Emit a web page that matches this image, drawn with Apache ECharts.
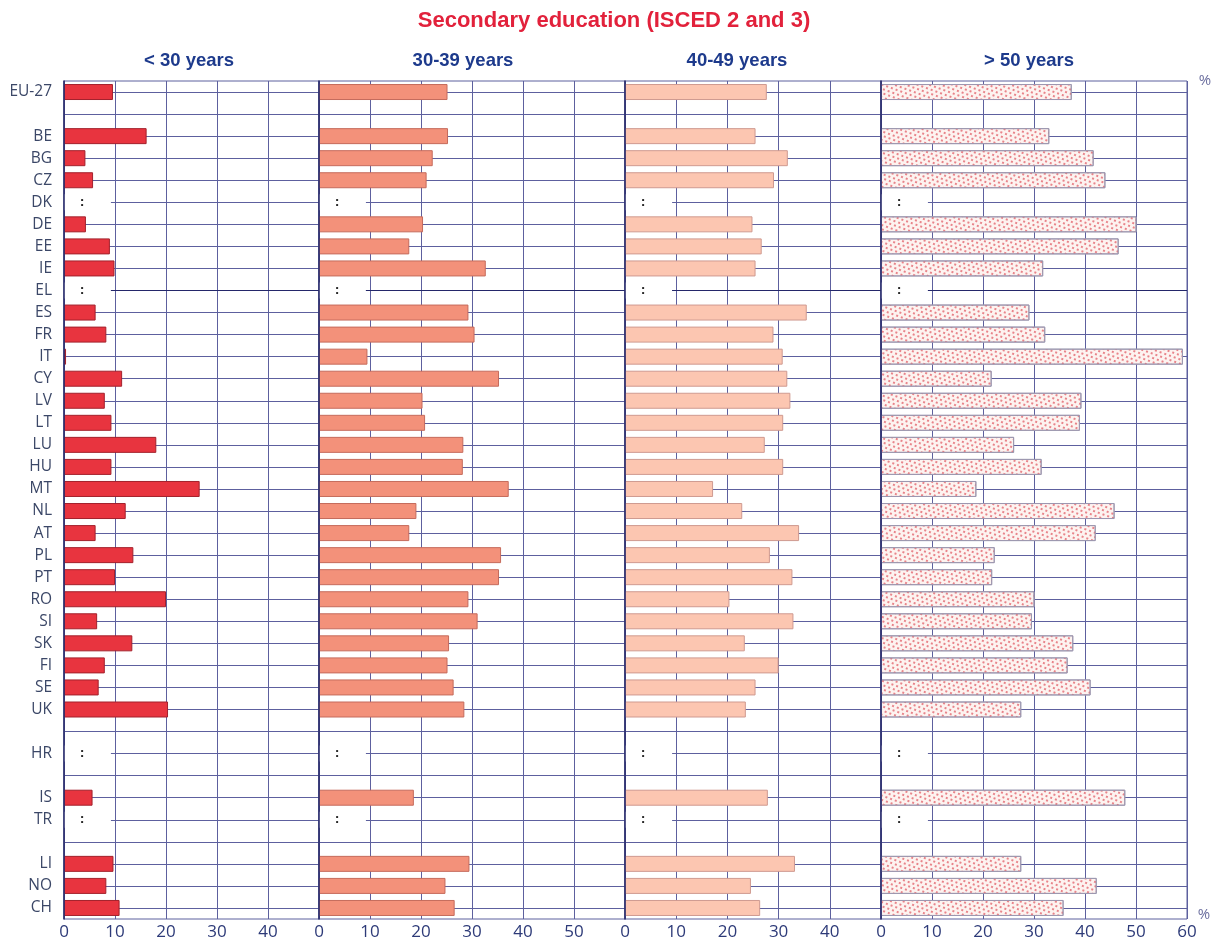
<!DOCTYPE html>
<html>
<head>
<meta charset="utf-8">
<title>Secondary education (ISCED 2 and 3)</title>
<script src="https://cdn.jsdelivr.net/npm/echarts@6/dist/echarts.min.js"></script>
<style>
  html, body { margin: 0; padding: 0; background: #ffffff; }
  #chart { width: 1215px; height: 942px; }
</style>
</head>
<body>
<div id="chart"></div>
<script>
// Rows from top to bottom; the whitespace-only names are spacer rows between country groups.
const categories = ['EU-27', ' ', 'BE', 'BG', 'CZ', 'DK', 'DE', 'EE', 'IE', 'EL', 'ES', 'FR', 'IT', 'CY',
  'LV', 'LT', 'LU', 'HU', 'MT', 'NL', 'AT', 'PL', 'PT', 'RO', 'SI', 'SK', 'FI', 'SE', 'UK', '  ',
  'HR', '   ', 'IS', 'TR', '    ', 'LI', 'NO', 'CH'];

// Countries with no data (shown as ":")
const notAvailable = ['DK', 'EL', 'HR', 'TR'];

const panelTitles = ['< 30 years', '30-39 years', '40-49 years', '> 50 years'];

// Share of teachers by age group (%)
const under30 = [9.6, null, 16.2, 4.2, 5.7, null, 4.3, 9.0, 9.9, null, 6.2, 8.3, 0.4, 11.4,
  8.0, 9.3, 18.1, 9.3, 26.6, 12.1, 6.2, 13.6, 10.0, 20.0, 6.5, 13.4, 8.0, 6.8, 20.4, null,
  null, null, 5.6, null, null, 9.7, 8.3, 10.9];

const age30to39 = [25.2, null, 25.3, 22.3, 21.1, null, 20.4, 17.7, 32.7, null, 29.3, 30.5, 9.5, 35.3,
  20.3, 20.8, 28.3, 28.2, 37.2, 19.1, 17.7, 35.7, 35.3, 29.3, 31.1, 25.5, 25.2, 26.4, 28.5, null,
  null, null, 18.6, null, null, 29.5, 24.8, 26.6];

const age40to49 = [27.7, null, 25.5, 31.8, 29.1, null, 24.9, 26.7, 25.5, null, 35.5, 29.0, 30.8, 31.7,
  32.3, 30.9, 27.3, 30.9, 17.2, 22.9, 34.0, 28.3, 32.7, 20.4, 32.9, 23.4, 30.0, 25.5, 23.6, null,
  null, null, 27.9, null, null, 33.2, 24.6, 26.4];

const over50 = [37.4, null, 33.0, 41.7, 44.0, null, 50.1, 46.6, 31.8, null, 29.1, 32.2, 59.2, 21.7,
  39.3, 39.0, 26.1, 31.5, 18.7, 45.8, 42.1, 22.3, 21.8, 30.1, 29.6, 37.7, 36.6, 41.1, 27.5, null,
  null, null, 47.9, null, null, 27.5, 42.3, 35.8];

const axisMax = [50, 60, 50, 60];
const tickStep = 10;

// ---- layout & styling ----
const GRID_TOP = 81;
const GRID_HEIGHT = 838;
const GRID_COLOR = '#5d609e';
const AXIS_COLOR = '#2a2d6c';
const LABEL_FONT = "'Open Sans', 'DejaVu Sans', sans-serif";
const TITLE_FONT = "'Liberation Sans', Arial, sans-serif";
const NA_GAP = 9.2;       // blank run behind the ":" sign (axis units)

const panels = [
  { data: under30,   left: 64,  width: 255, titleX: 189,  fill: '#e8343f', border: '#a3212c' },
  { data: age30to39, left: 319, width: 306, titleX: 463,  fill: '#f3917a', border: '#c56b5c' },
  { data: age40to49, left: 625, width: 256, titleX: 737,  fill: '#fcc6b1', border: '#cf9a90' },
  { data: over50,    left: 881, width: 306, titleX: 1029, fill: '#fdf3f0', border: '#9d98b0',
    decal: {
      symbol: 'circle',
      symbolSize: 0.9,
      color: '#df4f5a',
      dashArrayX: [[1.7, 2.3], [0, 2.0, 1.7, 0.3]],
      dashArrayY: [1.7, 1.2],
      rotation: 0.35
    }
  }
];

const grid = [], xAxis = [], yAxis = [], series = [];

panels.forEach((p, i) => {
  grid.push({
    left: p.left, top: GRID_TOP, width: p.width, height: GRID_HEIGHT,
    show: true, borderColor: GRID_COLOR, borderWidth: 1, backgroundColor: 'transparent',
    containLabel: false
  });

  xAxis.push({
    type: 'value', gridIndex: i, min: 0, max: axisMax[i], interval: tickStep,
    axisLine: { show: false },
    axisTick: { show: false },
    splitLine: { show: true, lineStyle: { color: GRID_COLOR, width: 1 } },
    axisLabel: {
      showMaxLabel: i === panels.length - 1,
      margin: 5, fontSize: 17, color: '#2d3a78', fontFamily: LABEL_FONT
    }
  });

  // category axis carrying labels and the row lines
  yAxis.push({
    type: 'category', gridIndex: i, data: categories, inverse: true,
    axisLine: { show: false },
    axisTick: { show: false },
    splitLine: { show: true, alignWithLabel: true, lineStyle: { color: GRID_COLOR, width: 1 } },
    axisLabel: {
      show: i === 0, margin: 12, fontSize: 15.5, color: '#3b4767', fontFamily: LABEL_FONT
    }
  });
});

// a second category axis per panel: only the dark baseline, drawn above the bars
panels.forEach((p, i) => {
  yAxis.push({
    type: 'category', gridIndex: i, data: categories, inverse: true, position: 'left', offset: 0,
    z: 6,
    axisLine: { show: true, lineStyle: { color: AXIS_COLOR, width: 1.6 } },
    axisTick: { show: false }, axisLabel: { show: false }, splitLine: { show: false }
  });
});

panels.forEach((p, i) => {
  series.push({
    name: panelTitles[i],
    type: 'bar', xAxisIndex: i, yAxisIndex: i, stack: 'panel' + i,
    barWidth: 16, z: 3,
    data: p.data,
    itemStyle: {
      color: p.fill, borderColor: p.border, borderWidth: 1,
      decal: p.decal || null
    }
  });

  // rows without data: a white run hiding the row line, marked with ":"
  series.push({
    name: 'n/a ' + i,
    type: 'bar', xAxisIndex: i, yAxisIndex: i, stack: 'panel' + i,
    z: 3,
    data: categories.map(c => notAvailable.includes(c) ? NA_GAP : null),
    itemStyle: { color: '#ffffff', borderWidth: 0 },
    label: {
      show: true, formatter: ':', position: [18, '50%'],
      align: 'center', verticalAlign: 'middle',
      fontSize: 13, fontWeight: 'bold', color: '#111111', fontFamily: LABEL_FONT
    },
    markLine: {
      silent: true, symbol: ['none', 'none'], animation: false,
      label: { show: false },
      lineStyle: { color: '#24276a', width: 1.2, type: 'solid' },
      data: [[{ coord: [NA_GAP, 'EL'] }, { coord: [axisMax[i], 'EL'] }]]
    }
  });
});

const graphic = [
  {
    type: 'text', x: 614, y: 21,
    style: {
      text: 'Secondary education (ISCED 2 and 3)', fill: '#e2213b',
      font: 'bold 22px ' + TITLE_FONT, align: 'center', verticalAlign: 'middle'
    }
  },
  {
    type: 'text', x: 1205, y: 81,
    style: { text: '%', fill: '#6c6f9f', font: '15px ' + LABEL_FONT, align: 'center', verticalAlign: 'middle' }
  },
  {
    type: 'text', x: 1204, y: 915,
    style: { text: '%', fill: '#6c6f9f', font: '15px ' + LABEL_FONT, align: 'center', verticalAlign: 'middle' }
  }
];
panels.forEach((p, i) => {
  graphic.push({
    type: 'text', x: p.titleX, y: 61,
    style: {
      text: panelTitles[i], fill: '#1d3a8c',
      font: 'bold 18.5px ' + TITLE_FONT, align: 'center', verticalAlign: 'middle'
    }
  });
});

const chart = echarts.init(document.getElementById('chart'), null, { renderer: 'canvas' });
chart.setOption({
  animation: false,
  backgroundColor: '#ffffff',
  grid, xAxis, yAxis, series, graphic
});
</script>
</body>
</html>
